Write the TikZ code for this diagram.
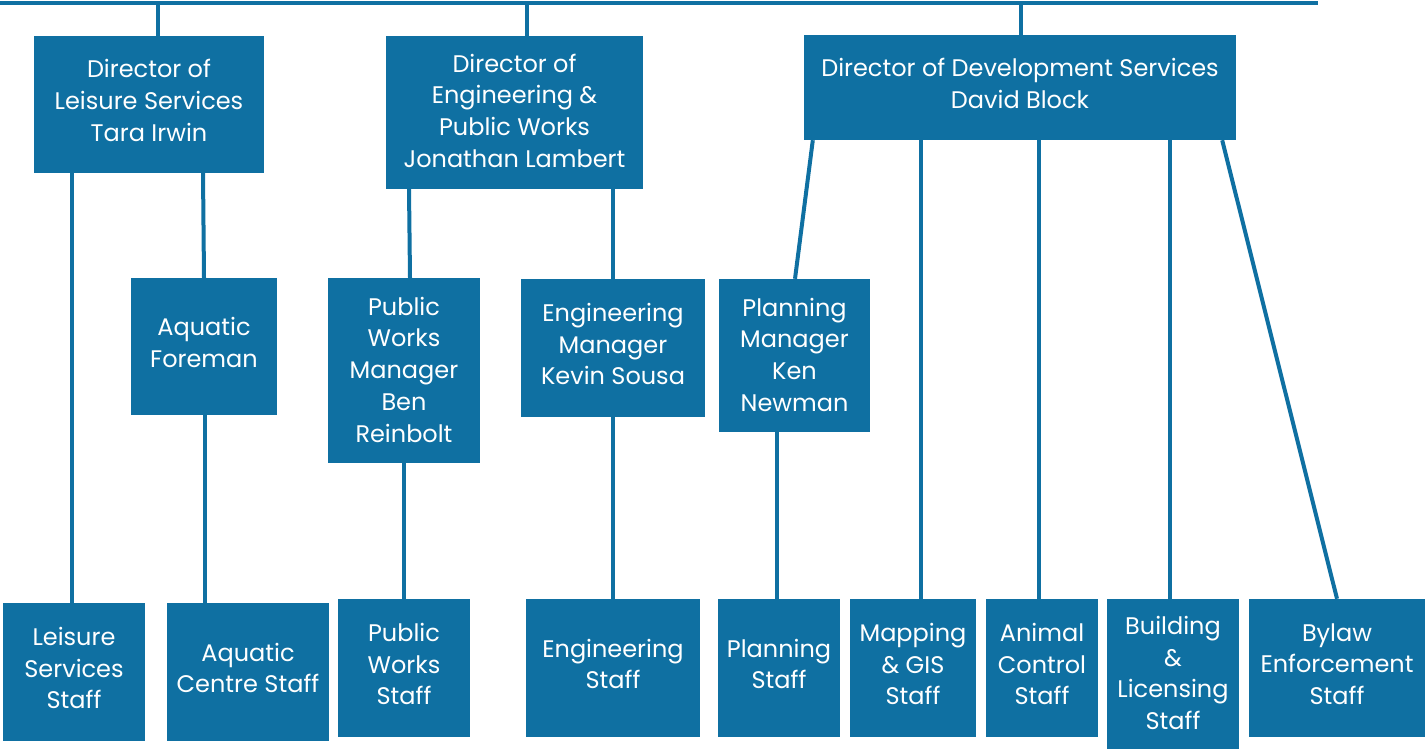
\documentclass[tikz,border=0pt]{standalone}
\usepackage{fontspec}
\setmainfont{Poppins}
\definecolor{orgblue}{RGB}{15,112,162}
\newcommand\boxdepth{8pt}
\begin{document}
\begin{tikzpicture}[x=1pt,y=-1pt,
  box/.style={fill=orgblue,text=white,inner sep=0pt,align=center,
    font=\fontsize{24}{31.7}\selectfont,
    execute at begin node={\rule{0pt}{20pt}},
    execute at end node={\rule[-\boxdepth]{0pt}{0pt}}},
  tall/.style={execute at begin node={\renewcommand\boxdepth{#1}}},
  tall/.default=2pt,
  link/.style={draw=orgblue,line width=4pt}]
\useasboundingbox (0,0) rectangle (1426,749);

% directors
\node[box,minimum width=230,minimum height=137] (dirL) at (149,104.5) {Director of\\Leisure Services\\Tara Irwin};
\node[box,tall=4pt,minimum width=257,minimum height=153] (dirE) at (514.5,112.5) {Director of\\Engineering \&\\Public Works\\Jonathan Lambert};
\node[box,minimum width=432,minimum height=105] (dirD) at (1020,87.5) {Director of Development Services\\David Block};

% managers
\node[box,minimum width=146,minimum height=137] (afm) at (204,346.5) {Aquatic\\Foreman};
\node[box,tall,minimum width=152,minimum height=185] (pwm) at (404,370.5) {Public\\Works\\Manager\\Ben\\Reinbolt};
\node[box,minimum width=184,minimum height=138] (em) at (613,348) {Engineering\\Manager\\Kevin Sousa};
\node[box,tall,minimum width=151,minimum height=153] (pm) at (794.5,355.5) {Planning\\Manager\\Ken\\Newman};

% staff
\node[box,minimum width=142,minimum height=138] (lss) at (74,672) {Leisure\\Services\\Staff};
\node[box,minimum width=162,minimum height=138] (acs) at (248,672) {Aquatic\\Centre Staff};
\node[box,minimum width=132,minimum height=138] (pws) at (404,668) {Public\\Works\\Staff};
\node[box,minimum width=174,minimum height=138] (es) at (613,668) {Engineering\\Staff};
\node[box,minimum width=122,minimum height=138] (ps) at (779,668) {Planning\\Staff};
\node[box,minimum width=126,minimum height=138] (mgs) at (913,668) {Mapping\\\& GIS\\Staff};
\node[box,minimum width=112,minimum height=138] (acn) at (1042,668) {Animal\\Control\\Staff};
\node[box,tall,minimum width=132,minimum height=150] (bls) at (1173,674) {Building\\\&\\Licensing\\Staff};
\node[box,minimum width=176,minimum height=138] (bes) at (1337,668) {Bylaw\\Enforcement\\Staff};

% top bar
\coordinate (topL) at (0,3);
\coordinate (topR) at (1318,3);
\draw[link] (topL) -- (topR);
\draw[link] ([xshift=9pt]dirL.north) -- ([xshift=9pt]dirL.north |- topL);
\draw[link] ([xshift=12.5pt]dirE.north) -- ([xshift=12.5pt]dirE.north |- topL);
\draw[link] ([xshift=1pt]dirD.north) -- ([xshift=1pt]dirD.north |- topL);

% leisure services
\draw[link] ([xshift=-2pt]lss.north) -- ([xshift=-2pt]lss.north |- dirL.south);
\draw[link] (afm.north) -- ([xshift=-1pt]afm.north |- dirL.south);
\draw[link] ([xshift=1pt]afm.south) -- ([xshift=1pt]afm.south |- acs.north);

% engineering & public works
\draw[link] ([xshift=6pt]pwm.north) -- ([xshift=5pt]pwm.north |- dirE.south);
\draw[link] (pwm.south) -- (pwm.south |- pws.north);
\draw[link] (em.north) -- (em.north |- dirE.south);
\draw[link] (es.north) -- (es.north |- em.south);

% development services
\draw[link] ([xshift=0.5pt]pm.north) -- ([xshift=9pt]dirD.south west);
\draw[link] ([xshift=-2pt]ps.north) -- ([xshift=-2pt]ps.north |- pm.south);
\draw[link] ([xshift=8pt]mgs.north) -- ([xshift=8pt]mgs.north |- dirD.south);
\draw[link] ([xshift=-3pt]acn.north) -- ([xshift=-3pt]acn.north |- dirD.south);
\draw[link] ([xshift=-3pt]bls.north) -- ([xshift=-3pt]bls.north |- dirD.south);
\draw[link] (bes.north) -- ([xshift=-14pt]dirD.south east);
\end{tikzpicture}
\end{document}
